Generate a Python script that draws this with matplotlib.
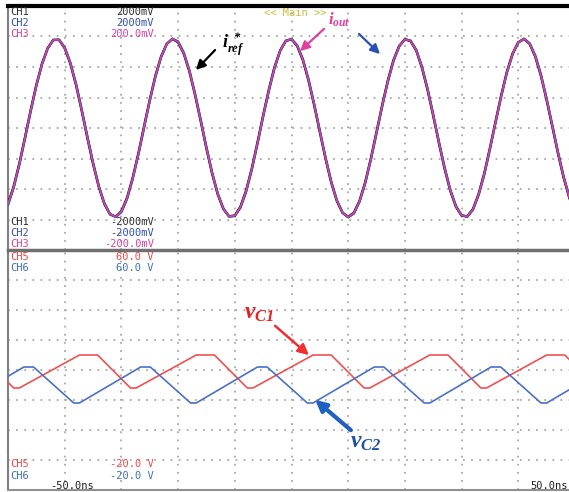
import numpy as np
import matplotlib
matplotlib.use('Agg')
import matplotlib.pyplot as plt

plt.rcParams['mathtext.fontset'] = 'custom'
plt.rcParams['mathtext.it'] = 'Liberation Serif:italic:bold'
plt.rcParams['mathtext.rm'] = 'Liberation Serif:italic:bold'
plt.rcParams['mathtext.bf'] = 'Liberation Serif:italic:bold'

# time axis of the scope, ns (10 ns/div)
t_top = np.arange(-50, 51, 1)
# currents, in divisions
i_ref = [-2.49, -1.92, -1.17, -0.31, 0.58, 1.41, 2.11, 2.62, 2.89, 2.89,
         2.62, 2.11, 1.41, 0.57, -0.32, -1.17, -1.92, -2.49, -2.83, -2.91,
         -2.73, -2.29, -1.63, -0.83, 0.05, 0.92, 1.71, 2.34, 2.76, 2.92,
         2.81, 2.44, 1.85, 1.08, 0.22, -0.67, -1.49, -2.18, -2.66, -2.90,
         -2.87, -2.58, -2.05, -1.33, -0.48, 0.41, 1.25, 1.99, 2.54, 2.86,
         2.91, 2.69, 2.23, 1.56, 0.75, -0.13, -1.00, -1.78, -2.39, -2.78,
         -2.92, -2.78, -2.39, -1.78, -1.00, -0.13, 0.75, 1.56, 2.23, 2.69,
         2.91, 2.85, 2.54, 1.98, 1.25, 0.40, -0.49, -1.33, -2.05, -2.58,
         -2.87, -2.90, -2.66, -2.17, -1.49, -0.66, 0.22, 1.08, 1.85, 2.44,
         2.81, 2.92, 2.76, 2.34, 1.71, 0.92, 0.05, -0.83, -1.63, -2.29,
         -2.73]
i_out = [-2.53, -1.97, -1.22, -0.36, 0.53, 1.37, 2.08, 2.60, 2.88, 2.90,
         2.65, 2.15, 1.46, 0.62, -0.27, -1.12, -1.88, -2.46, -2.82, -2.92,
         -2.76, -2.33, -1.68, -0.88, 0.00, 0.87, 1.67, 2.31, 2.75, 2.93,
         2.84, 2.48, 1.90, 1.13, 0.27, -0.62, -1.45, -2.14, -2.64, -2.90,
         -2.89, -2.62, -2.10, -1.38, -0.53, 0.36, 1.20, 1.95, 2.52, 2.85,
         2.92, 2.72, 2.27, 1.61, 0.80, -0.08, -0.95, -1.74, -2.36, -2.77,
         -2.93, -2.81, -2.43, -1.83, -1.05, -0.18, 0.70, 1.51, 2.19, 2.67,
         2.91, 2.87, 2.57, 2.03, 1.30, 0.45, -0.44, -1.28, -2.01, -2.55,
         -2.86, -2.91, -2.69, -2.21, -1.54, -0.71, 0.17, 1.03, 1.81, 2.41,
         2.80, 2.93, 2.78, 2.38, 1.76, 0.97, 0.10, -0.78, -1.58, -2.25,
         -2.71]

# capacitor voltages, corner points (ns, V)
t_c1 = [-54.8, -49.0, -48.0, -37.4, -34.2, -28.4, -27.4, -16.8, -13.6, -7.8, -6.8,
        3.8, 7.0, 12.8, 13.8, 24.4, 27.6, 33.4, 34.4, 45.0, 48.2, 54.0]
v_c1 = [25, 14, 14, 25, 25, 14, 14, 25, 25, 14, 14,
        25, 25, 14, 14, 25, 25, 14, 14, 25, 25, 14]
t_c2 = [-58.0, -47.2, -45.5, -38.4, -37.4, -26.6, -24.9, -17.8, -16.8, -6.0, -4.3,
        2.8, 3.8, 14.6, 16.3, 23.4, 24.4, 35.2, 36.9, 44.0, 45.0, 55.8]
v_c2 = [9, 21, 21, 9, 9, 21, 21, 9, 9, 21, 21,
        9, 9, 21, 21, 9, 9, 21, 21, 9, 9, 21]

W, H = 569, 492
fig = plt.figure(figsize=(W / 100, H / 100), dpi=100)
fig.patch.set_facecolor('white')

def fx(x):
    return x / W

def fy(y):
    return 1 - y / H

ax1 = fig.add_axes([fx(8), fy(250), 567 / W, 244 / H])
ax2 = fig.add_axes([fx(8), fy(490), 567 / W, 240 / H])

gridc = '#a8a8a8'
for ax, lo, hi in [(ax1, -4, 4), (ax2, -20, 60)]:
    ax.set_xlim(-50, 50)
    ax.set_ylim(lo, hi)
    step = (hi - lo) / 8
    for k in range(1, 8):
        ax.axhline(lo + k * step, color=gridc, lw=1.3, ls=(0, (1, 3.5)), zorder=0)
    for k in range(-4, 5):
        ax.axvline(k * 10, color=gridc, lw=1.3, ls=(0, (1, 3.5)), zorder=0)
    ax.set_xticks([])
    ax.set_yticks([])
    ax.spines['right'].set_visible(False)
    ax.spines['left'].set_color('#808080')
    ax.spines['left'].set_linewidth(1.5)

ax1.spines['bottom'].set_visible(False)
ax1.spines['top'].set_color('black')
ax1.spines['top'].set_linewidth(3)
ax2.spines['top'].set_color('#707070')
ax2.spines['top'].set_linewidth(2.5)
ax2.spines['bottom'].set_color('#909090')
ax2.spines['bottom'].set_linewidth(1.5)

# top traces
ax1.plot(t_top, i_ref, color='black', lw=1.8, zorder=3)
ax1.plot(t_top, i_out, color='#3a50c0', lw=1.6, zorder=4)
ax1.plot(t_top, i_ref, color='#e0409a', lw=1.1, zorder=5)

# bottom traces
ax2.plot(t_c1, v_c1, color='#f05050', lw=1.2, zorder=3)
ax2.plot(t_c2, v_c2, color='#4a70c8', lw=1.2, zorder=3)

# channel read-outs
mono = dict(family='DejaVu Sans Mono', fontsize=7.5, va='center')
rows = [
    ('CH1', '2000mV', '#303030', 12), ('CH2', '2000mV', '#3050b0', 23),
    ('CH3', '200.0mV', '#e040a0', 34),
    ('CH1', '-2000mV', '#303030', 222), ('CH2', '-2000mV', '#3050b0', 233),
    ('CH3', '-200.0mV', '#e040a0', 244),
    ('CH5', '60.0 V', '#f04848', 257), ('CH6', '60.0 V', '#4070c0', 268),
    ('CH5', '-20.0 V', '#f04848', 464), ('CH6', '-20.0 V', '#4070c0', 476),
]
for name, val, c, y in rows:
    fig.text(fx(10), fy(y), name, color=c, ha='left', **mono)
    fig.text(fx(154), fy(y), val, color=c, ha='right', **mono)

fig.text(fx(50), fy(486), '-50.0ns', color='#202020', ha='left', **mono)
fig.text(fx(530), fy(486), '50.0ns', color='#202020', ha='left', **mono)
fig.text(fx(295), fy(13), '<< Main >>', color='#c8c040', ha='center', **mono)

# labels and arrows
def arrow(x0, y0, x1, y1, c, lw=1.6, ms=14):
    fig.add_artist(matplotlib.patches.FancyArrowPatch(
        (fx(x0), fy(y0)), (fx(x1), fy(y1)), transform=fig.transFigure,
        arrowstyle='-|>', color=c, lw=lw, mutation_scale=ms))

fig.text(fx(222), fy(44), r'$i_{ref}^{\ *}$', color='black', fontsize=13, va='center')
arrow(217, 48, 194, 72, 'black')
fig.text(fx(328), fy(20), r'$i_{out}$', color='#e0409a', fontsize=12, va='center')
arrow(326, 27, 298, 53, '#e0409a')
arrow(357, 32, 382, 56, '#2850b0')

fig.text(fx(244), fy(312), r'$v_{C1}$', color='#e82020', fontsize=17, va='center')
arrow(273, 324, 311, 357, '#f03030', lw=1.8, ms=16)
fig.text(fx(350), fy(441), r'$v_{C2}$', color='#2050a0', fontsize=17, va='center')
arrow(353, 432, 313, 398, '#2060c0', lw=3, ms=16)

fig.savefig('out.png', dpi=100)
